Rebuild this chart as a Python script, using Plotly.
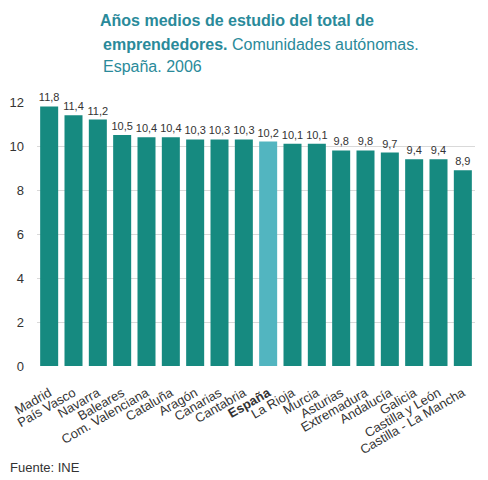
import plotly.graph_objects as go

# Datos: años medios de estudio por comunidad autónoma (2006)
regiones = ["Madrid", "País Vasco", "Navarra", "Baleares", "Com. Valenciana", "Cataluña",
            "Aragón", "Canarias", "Cantabria", "España", "La Rioja", "Murcia", "Asturias",
            "Extremadura", "Andalucía", "Galicia", "Castilla y León", "Castilla - La Mancha"]
anios = [11.8, 11.4, 11.2, 10.5, 10.4, 10.4, 10.3, 10.3, 10.3, 10.2, 10.1, 10.1, 9.8,
         9.8, 9.7, 9.4, 9.4, 8.9]
y_ticks = [0, 2, 4, 6, 8, 10, 12]

colores = ['#52b5c0' if r == "España" else '#168a80' for r in regiones]
etiquetas = [f"{v:.1f}".replace(".", ",") for v in anios]
ticktext = [f"<b>{r}</b>" if r == "España" else r for r in regiones]

titulo_color = '#2a8a9a'
texto_color = '#333333'

fig = go.Figure()
fig.add_trace(go.Bar(
    x=regiones,
    y=anios,
    marker=dict(color=colores, line=dict(width=0)),
    text=etiquetas,
    textposition='outside',
    constraintext='none',
    textfont=dict(size=11, color=texto_color, family='Arial'),
    cliponaxis=False,
    showlegend=False,
    hoverinfo='x+y'
))

# Título en tres líneas (anotaciones para colocarlo con precisión)
titulo = [
    ("<b>Años medios de estudio del total de</b>", 61, 82),
    ("<b>emprendedores.</b> Comunidades autónomas.", 64, 58),
    ("España. 2006", 64, 36),
]
anotaciones = [dict(
    text=t, x=0, xref='paper', xanchor='left', xshift=xs,
    y=1, yref='paper', yanchor='middle', yshift=ys,
    showarrow=False, font=dict(size=16, color=titulo_color, family='Arial')
) for t, xs, ys in titulo]

anotaciones.append(dict(
    text="Fuente: INE", x=0, xref='paper', xanchor='left', xshift=-29,
    y=0, yref='paper', yanchor='middle', yshift=-101,
    showarrow=False, font=dict(size=13, color=texto_color, family='Arial')
))

fig.update_layout(
    width=480,
    height=472,
    margin=dict(l=29, r=13, t=94, b=114),
    plot_bgcolor='white',
    paper_bgcolor='white',
    font=dict(family='Arial', color=texto_color),
    bargap=0.26,
    xaxis=dict(
        tickmode='array',
        tickvals=regiones,
        ticktext=ticktext,
        tickangle=-30,
        tickfont=dict(size=13, color=texto_color),
        showgrid=False,
        showline=False,
        ticks='',
        automargin=False,
        ticklabelstandoff=16
    ),
    yaxis=dict(
        range=[0, 12],
        tickvals=y_ticks,
        tickfont=dict(size=13, color=texto_color),
        showgrid=True,
        gridcolor='#d9d9d9',
        zeroline=False,
        ticks='',
        automargin=False,
        ticklabelstandoff=12
    ),
    annotations=anotaciones
)

fig.write_html("out.html")
